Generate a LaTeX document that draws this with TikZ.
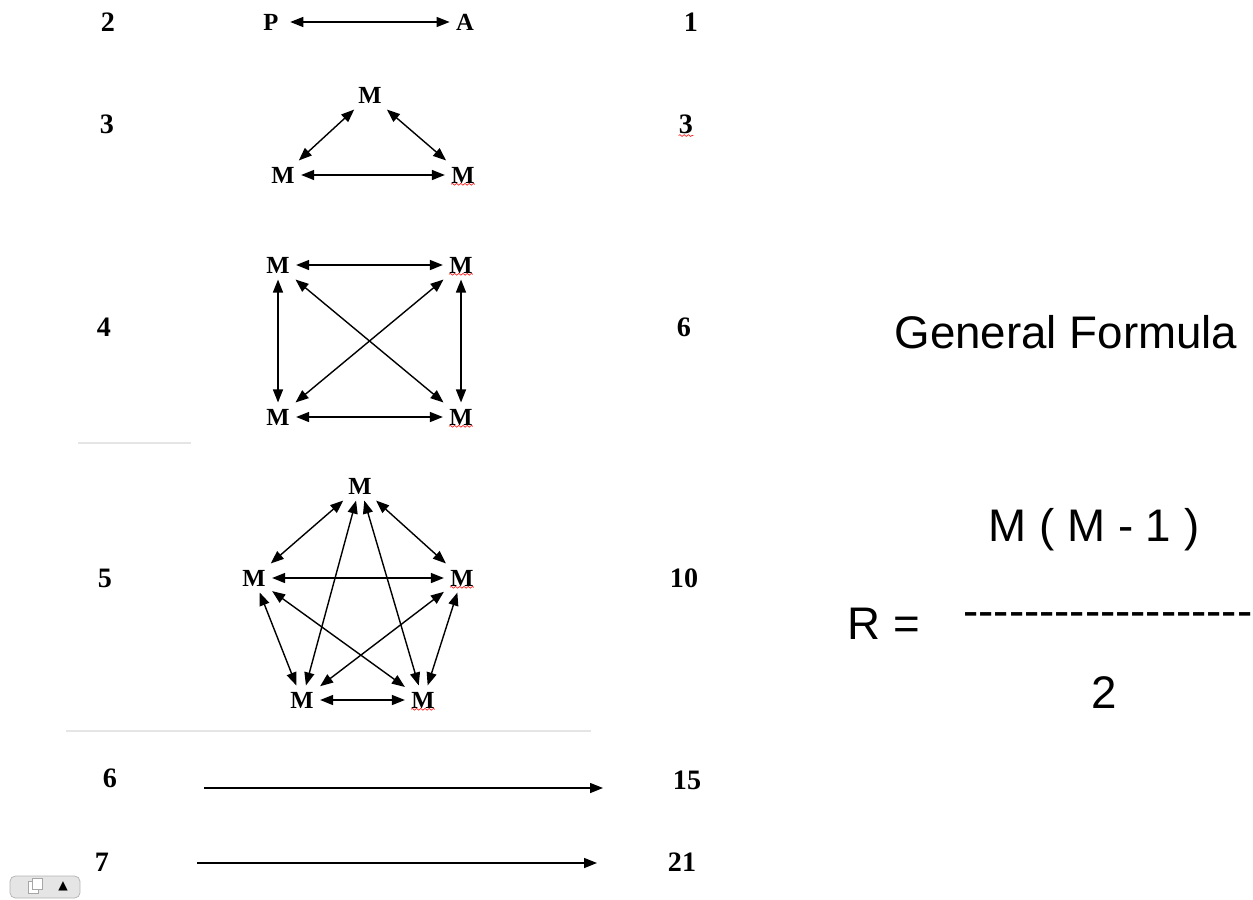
\documentclass[tikz,border=0pt]{standalone}
\usepackage{fontspec}
\setmainfont{Liberation Serif}
\newfontfamily\arialfont{Liberation Sans}
\newfontfamily\symbfont{DejaVu Sans}
\usetikzlibrary{arrows.meta, decorations.pathmorphing}
\newcommand\hy{-\kern0pt}

\begin{document}
\begin{tikzpicture}[x=0.02cm, y=-0.02cm,
            count/.style={font=\bfseries\fontsize{16}{18}\selectfont, inner sep=1pt},
            mnode/.style={font=\bfseries\fontsize{14}{16}\selectfont, inner sep=3.5pt},
            formula/.style={font=\arialfont\fontsize{26}{30}\selectfont, inner sep=0pt},
            link/.style={{Triangle[length=2.6mm, width=2mm]}-{Triangle[length=2.6mm, width=2mm]}, line width=0.8pt},
            oneway/.style={-{Triangle[length=2.6mm, width=2mm]}, line width=0.8pt},
            rule/.style={gray!20, line width=1.2pt},
            spell/.style={red!85, thin, decorate, decoration={snake, amplitude=0.5pt, segment length=2.4pt}}
        ]
            \useasboundingbox (0,0) rectangle (1253,899);

            % Two members
            \node[count] (n2) at (108,22) {2};
            \node[mnode] (p) at (271,22) {P};
            \node[mnode] (a) at (465,22) {A};
            \node[count] (r2) at (691,22) {1};
            \draw[link, shorten <=3pt] (p) -- (a);

            % Three members
            \node[count] (n3) at (107,124) {3};
            \node[mnode] (t1) at (370,95) {M};
            \node[mnode] (t2) at (283,175) {M};
            \node[mnode] (t3) at (463,175) {M};
            \node[count] (r3) at (686,124) {3};
            \draw[link] (t1) -- (t2);
            \draw[link] (t1) -- (t3);
            \draw[link] (t2) -- (t3);

            % Four members
            \node[count] (n4) at (104,327) {4};
            \node[mnode] (q1) at (278,265) {M};
            \node[mnode] (q2) at (461,265) {M};
            \node[mnode] (q3) at (278,417) {M};
            \node[mnode] (q4) at (461,417) {M};
            \node[count] (r4) at (684,327) {6};
            \draw[link] (q1) -- (q2);
            \draw[link] (q3) -- (q4);
            \draw[link] (q1) -- (q3);
            \draw[link] (q2) -- (q4);
            \draw[link] (q1) -- (q4);
            \draw[link] (q2) -- (q3);

            % Five members
            \node[count] (n5) at (105,578) {5};
            \node[mnode] (v1) at (360,486) {M};
            \node[mnode] (v2) at (254,578) {M};
            \node[mnode] (v3) at (462,578) {M};
            \node[mnode] (v4) at (302,700) {M};
            \node[mnode] (v5) at (423,700) {M};
            \node[count] (r5) at (684,578) {10};
            \draw[link] (v1) -- (v2);
            \draw[link] (v1) -- (v3);
            \draw[link] (v1) -- (v4);
            \draw[link] (v1) -- (v5);
            \draw[link] (v2) -- (v3);
            \draw[link] (v2) -- (v4);
            \draw[link] (v2) -- (v5);
            \draw[link] (v3) -- (v4);
            \draw[link] (v3) -- (v5);
            \draw[link] (v4) -- (v5);

            % Six and seven members
            \node[count] (n6) at (110,778) {6};
            \node[count] (r6) at (687,780) {15};
            \coordinate (s6) at (204,788);
            \coordinate (e6) at (603,788);
            \draw[oneway] (s6) -- (e6);
            \node[count] (n7) at (102,862) {7};
            \node[count] (r7) at (682,862) {21};
            \coordinate (s7) at (197,863);
            \coordinate (e7) at (597,863);
            \draw[oneway] (s7) -- (e7);

            % Separator lines
            \draw[rule] (78,443) -- (191,443);
            \draw[rule] (66,731) -- (591,731);

            % Spelling marks
            \draw[spell] ([shift={(3.5pt,3pt)}]t3.south west) -- ([shift={(-3.5pt,3pt)}]t3.south east);
            \draw[spell] ([shift={(1pt,0pt)}]r3.south west) -- ([shift={(-1pt,0pt)}]r3.south east);
            \draw[spell] ([shift={(3.5pt,3pt)}]q2.south west) -- ([shift={(-3.5pt,3pt)}]q2.south east);
            \draw[spell] ([shift={(3.5pt,3pt)}]q4.south west) -- ([shift={(-3.5pt,3pt)}]q4.south east);
            \draw[spell] ([shift={(3.5pt,3pt)}]v3.south west) -- ([shift={(-3.5pt,3pt)}]v3.south east);
            \draw[spell] ([shift={(3.5pt,3pt)}]v5.south west) -- ([shift={(-3.5pt,3pt)}]v5.south east);

            % General formula
            \node[formula] (title) at (1066,332) {General Formula};
            \node[formula] (numer) at (1094,530) {M ( M - 1 )};
            \node[formula] (lhs) at (884,624) {R =};
            \node[formula, anchor=west] (bar) at (963,620) {\hy\hy\hy\hy\hy\hy\hy\hy\hy\hy\hy\hy\hy\hy\hy\hy\hy\hy\hy};
            \node[formula] (denom) at (1104,693) {2};

            % Window button
            \node[draw=gray!60, fill=gray!20, rounded corners=3pt, minimum width=1.4cm, minimum height=0.44cm, inner sep=0pt] (btn) at (45,887) {};
            \draw[gray!70, fill=white] (28,881) rectangle (38,893);
            \draw[gray!70, fill=white] (32,878) rectangle (42,889);
            \node[font=\symbfont\fontsize{7}{8}\selectfont, inner sep=0pt] (tri) at (63,886) {▲};

        \end{tikzpicture}
\end{document}
